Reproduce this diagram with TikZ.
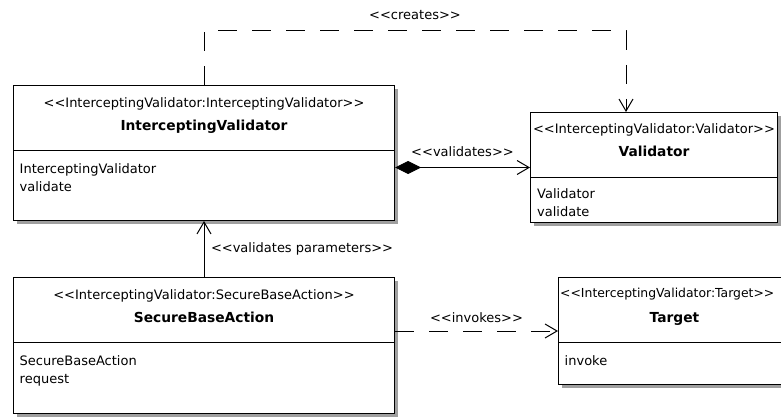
\documentclass[tikz,border=0pt]{standalone}
\usepackage{fontspec}
\setmainfont{DejaVu Sans}
\usetikzlibrary{arrows.meta,shadows}

\newcommand{\ster}[1]{<{}<#1>{}>}

\tikzset{
  classbox/.style={draw, line width=1pt, fill=white, anchor=north west, inner sep=0pt,
    drop shadow={shadow xshift=3.5pt, shadow yshift=-3.5pt, fill=gray!75, opacity=1}},
  stereo/.style={anchor=base, inner sep=0pt},
  cname/.style={anchor=base, inner sep=0pt, font=\fontsize{13.8}{18}\selectfont\bfseries},
  ops/.style={anchor=north west, inner sep=0pt, align=left},
  dep/.style={line width=1pt, dash pattern=on 19pt off 15pt, ->},
  assoc/.style={line width=1pt, ->},
  lbl/.style={inner sep=0pt},
}

\begin{document}
\begin{tikzpicture}[x=1pt, y=-1pt, font=\fontsize{13}{18}\selectfont,
  >={Straight Barb[length=12pt,width=14pt]}]
  \useasboundingbox (0,0) rectangle (781,417);
  \clip (0,0) rectangle (781,417);

  % class boxes
  \node[classbox, minimum width=381pt, minimum height=135pt] (iv) at (13,85) {};
  \node[classbox, minimum width=247pt, minimum height=110pt] (val) at (530,112) {};
  \node[classbox, minimum width=381pt, minimum height=136pt] (sba) at (13,277) {};
  \node[classbox, minimum width=232pt, minimum height=107pt] (tgt) at (558,277) {};

  % InterceptingValidator
  \node[stereo] (ivS) at ([yshift=-23pt]iv.north) {\ster{InterceptingValidator:InterceptingValidator}};
  \node[cname] (ivN) at ([yshift=-45pt]iv.north) {InterceptingValidator};
  \draw[line width=1pt] ([yshift=-65pt]iv.north west) -- ([yshift=-65pt]iv.north east);
  \node[ops] (ivO) at ([xshift=6.5pt,yshift=-78pt]iv.north west) {InterceptingValidator\\validate};

  % Validator
  \node[stereo] (valS) at ([yshift=-21pt]val.north) {\ster{InterceptingValidator:Validator}};
  \node[cname] (valN) at ([yshift=-45pt]val.north) {Validator};
  \draw[line width=1pt] ([yshift=-65pt]val.north west) -- ([yshift=-65pt]val.north east);
  \node[ops] (valO) at ([xshift=7pt,yshift=-76pt]val.north west) {Validator\\validate};

  % SecureBaseAction
  \node[stereo] (sbaS) at ([yshift=-22pt]sba.north) {\ster{InterceptingValidator:SecureBaseAction}};
  \node[cname] (sbaN) at ([yshift=-45pt]sba.north) {SecureBaseAction};
  \draw[line width=1pt] ([yshift=-65pt]sba.north west) -- ([yshift=-65pt]sba.north east);
  \node[ops] (sbaO) at ([xshift=6.5pt,yshift=-78pt]sba.north west) {SecureBaseAction\\request};

  % Target (stereotype kept inside the page)
  \node[stereo, anchor=base west, font=\fontsize{12.4}{18}\selectfont] (tgtS)
    at ([xshift=2pt,yshift=-20pt]tgt.north west) {\ster{InterceptingValidator:Target}};
  \node[cname] (tgtN) at ([yshift=-45pt]tgt.north) {Target};
  \draw[line width=1pt] ([yshift=-65pt]tgt.north west) -- ([yshift=-65pt]tgt.north east);
  \node[ops] (tgtO) at ([xshift=6.5pt,yshift=-78pt]tgt.north west) {invoke};

  % connectors
  \draw[dep] (iv.north) -- ++(0,-54) -| ([xshift=96pt]val.north west)
    node[pos=0.25, above=11pt, lbl] {\ster{creates}};
  \draw[assoc, {Diamond[length=26pt,width=13pt]}->] (val.west -| iv.east) -- (val.west)
    node[midway, above=10pt, lbl] {\ster{validates}};
  \draw[assoc] (sba.north) -- (iv.south)
    node[midway, right=6.5pt, lbl] {\ster{validates parameters}};
  \draw[dep] (tgt.west -| sba.east) -- (tgt.west)
    node[midway, above=8pt, lbl] {\ster{invokes}};
\end{tikzpicture}
\end{document}
